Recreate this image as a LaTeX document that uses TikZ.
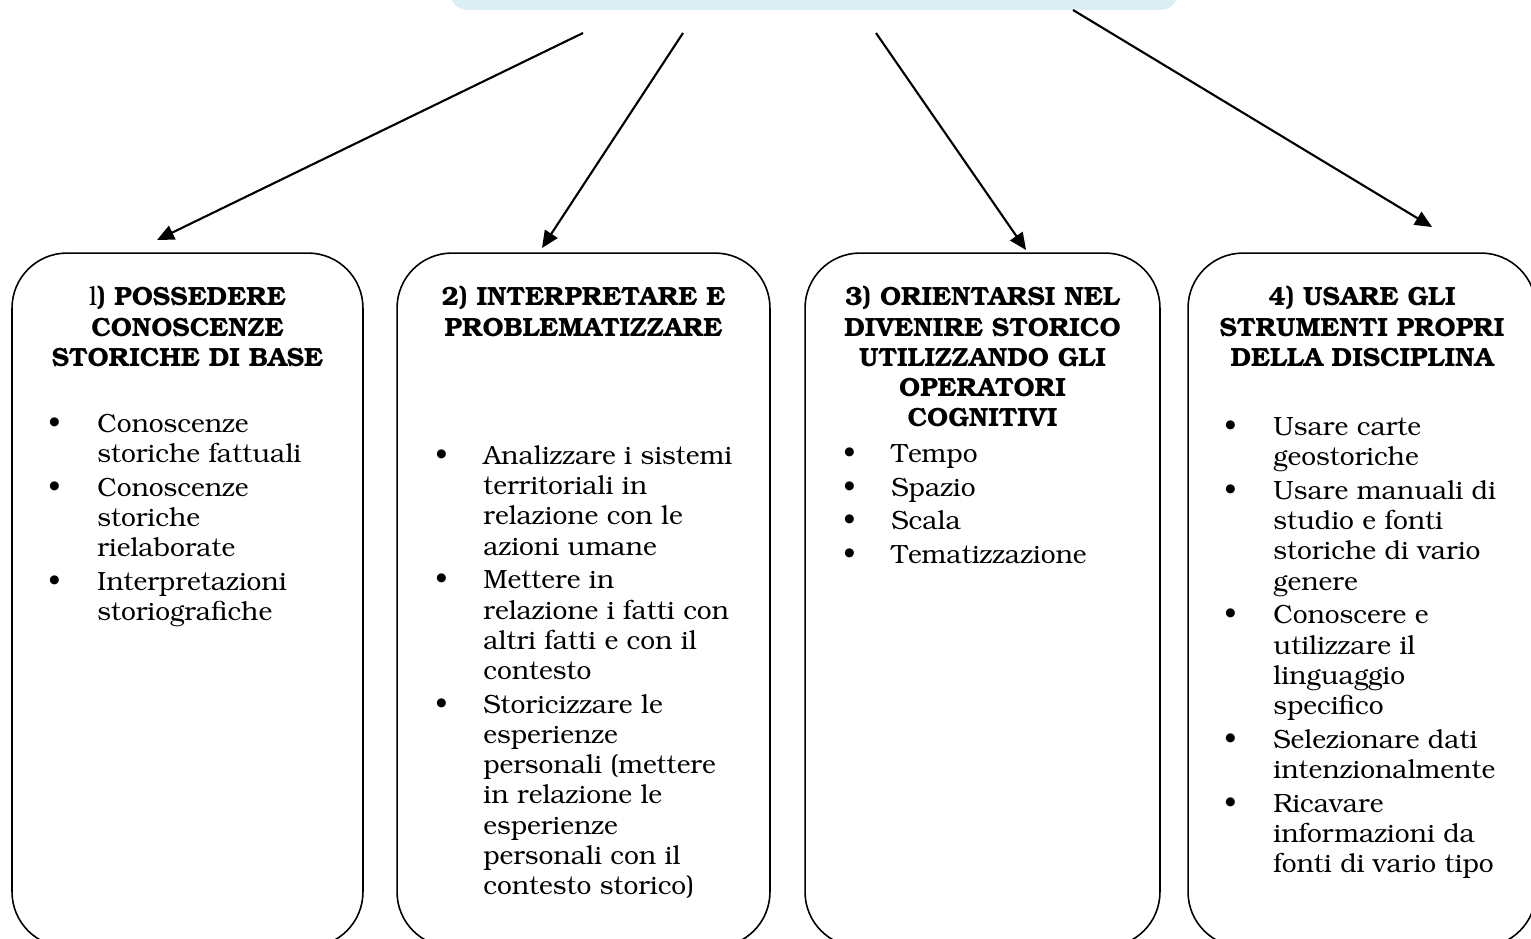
\documentclass[tikz,border=0pt]{standalone}
\usepackage[T1]{fontenc}
\usepackage{bookman}
\usetikzlibrary{arrows.meta}
\definecolor{azzurrino}{RGB}{218,238,243}
\tikzset{
  riquadro/.style={draw, line width=0.9pt, rounded corners=1.1cm, minimum height=13.88cm},
  freccia/.style={line width=1.2pt, -{Triangle[length=0.34cm,width=0.3cm]}},
  titolo/.style={anchor=north, inner sep=0pt, align=center, font=\fontsize{15}{17.2}\selectfont\bfseries},
  elenco/.style={anchor=north west, inner sep=0pt, font=\fontsize{15}{17.2}\selectfont}
}
\begin{document}
\begin{tikzpicture}[x=0.02cm,y=-0.02cm]
\path[use as bounding box] (0,0) rectangle (1531,939);
\clip (0,0) rectangle (1531,939);
% top box
\node[fill=azzurrino, rounded corners=0.35cm, minimum width=14.56cm, minimum height=1cm] (obiettivo) at (814,-15) {};
%
% boxes
\node[riquadro, minimum width=7.02cm] (b1) at (187.5,600) {};
\node[riquadro, minimum width=7.46cm] (b2) at (583.5,600) {};
\node[riquadro, minimum width=7.10cm] (b3) at (982.5,600) {};
\node[riquadro, minimum width=6.96cm] (b4) at (1362,600) {};
%
% arrows
\coordinate (p1) at (583,33);  \coordinate (q1) at (157,240);
\coordinate (p2) at (683,33);  \coordinate (q2) at (542,248);
\coordinate (p3) at (876,33);  \coordinate (q3) at (1026,250);
\coordinate (p4) at (1073,10); \coordinate (q4) at (1432,227);
\draw[freccia] (p1) -- (q1);
\draw[freccia] (p2) -- (q2);
\draw[freccia] (p3) -- (q3);
\draw[freccia] (p4) -- (q4);
%
% 1
\node[titolo] (t1) at (187.5,286) {{\mdseries l}) POSSEDERE\\CONOSCENZE\\STORICHE DI BASE};
\node[elenco] (l1) at (48,411) {\begin{tabular}{@{}p{0.98cm}@{}l@{}}
\textbullet & Conoscenze\\
 & storiche fattuali\\[2pt]
\textbullet & Conoscenze\\
 & storiche\\
 & rielaborate\\[2pt]
\textbullet & Interpretazioni\\
 & storiografiche
\end{tabular}};
%
% 2
\node[titolo] (t2) at (583.5,286) {2) INTERPRETARE E\\PROBLEMATIZZARE};
\node[elenco] (l2) at (435,443) {\begin{tabular}{@{}p{0.96cm}@{}l@{}}
\textbullet & Analizzare i sistemi\\
 & territoriali in\\
 & relazione con le\\
 & azioni umane\\[2pt]
\textbullet & Mettere in\\
 & relazione i fatti con\\
 & altri fatti e con il\\
 & contesto\\[2pt]
\textbullet & Storicizzare le\\
 & esperienze\\
 & personali (mettere\\
 & in relazione le\\
 & esperienze\\
 & personali con il\\
 & contesto storico)
\end{tabular}};
%
% 3
\node[titolo] (t3) at (982.5,286) {3) ORIENTARSI NEL\\DIVENIRE STORICO\\UTILIZZANDO GLI\\OPERATORI\\COGNITIVI};
\node[elenco] (l3) at (843,441) {\begin{tabular}{@{}p{0.96cm}@{}l@{}}
\textbullet & Tempo\\[2pt]
\textbullet & Spazio\\[2pt]
\textbullet & Scala\\[2pt]
\textbullet & Tematizzazione
\end{tabular}};
%
% 4
\node[titolo] (t4) at (1362,286) {4) USARE GLI\\STRUMENTI PROPRI\\DELLA DISCIPLINA};
\node[elenco] (l4) at (1224,414) {\begin{tabular}{@{}p{0.98cm}@{}l@{}}
\textbullet & Usare carte\\
 & geostoriche\\[2pt]
\textbullet & Usare manuali di\\
 & studio e fonti\\
 & storiche di vario\\
 & genere\\[2pt]
\textbullet & Conoscere e\\
 & utilizzare il\\
 & linguaggio\\
 & specifico\\[2pt]
\textbullet & Selezionare dati\\
 & intenzionalmente\\[2pt]
\textbullet & Ricavare\\
 & informazioni da\\
 & fonti di vario tipo
\end{tabular}};
\end{tikzpicture}
\end{document}
